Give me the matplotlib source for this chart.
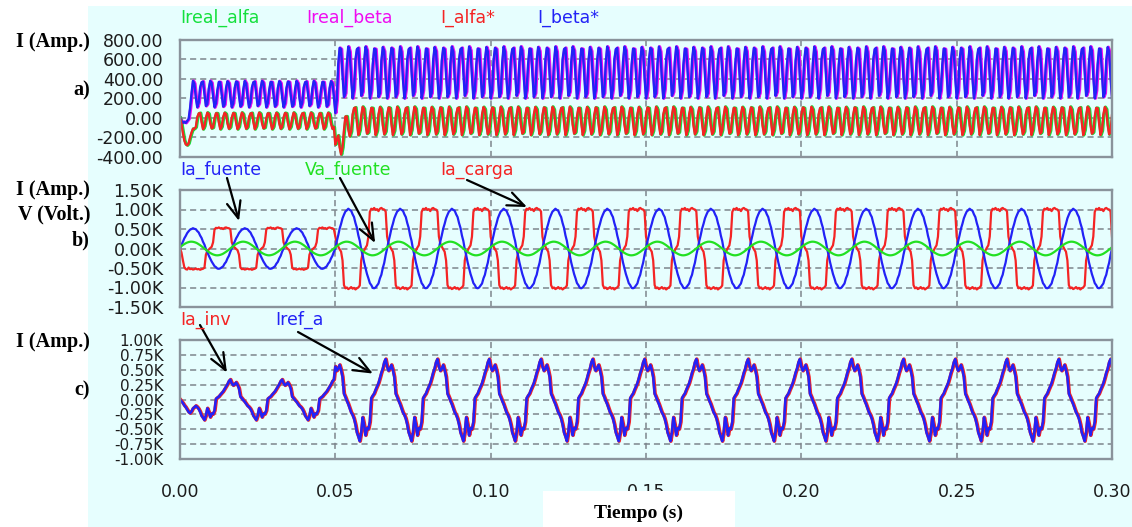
import numpy as np
import matplotlib
matplotlib.use("Agg")
import matplotlib.pyplot as plt
from matplotlib.patches import Rectangle

# ---------------- record settings ----------------
f_red = 60.0            # Hz
muestras_ciclo = 36     # stored samples per 60 Hz cycle
t_final = 0.30          # s
t_escalon = 0.05        # s, load step

# ---------------- one 60 Hz cycle of every trace (per unit) ----------------
ia_fuente_ciclo = [0.00, 0.18, 0.33, 0.50, 0.62, 0.76, 0.85, 0.93, 0.96, 1.00, 0.97, 0.95,
                   0.86, 0.79, 0.64, 0.52, 0.33, 0.19, -0.02, -0.17, -0.35, -0.49, -0.64, -0.75,
                   -0.87, -0.92, -0.99, -1.00, -0.98, -0.93, -0.88, -0.75, -0.66, -0.49, -0.36, -0.16]
va_fuente_ciclo = [0.19, 0.36, 0.51, 0.65, 0.77, 0.87, 0.94, 0.99, 1.00, 0.98, 0.93, 0.86,
                   0.76, 0.63, 0.49, 0.33, 0.16, -0.01, -0.19, -0.36, -0.51, -0.65, -0.77, -0.87,
                   -0.94, -0.99, -1.00, -0.98, -0.93, -0.86, -0.76, -0.63, -0.49, -0.33, -0.16, 0.01]
ia_carga_ciclo = [0.30, 0.12, 0.05, -0.02, -0.08, -0.30,
                  -0.92, -1.00, -0.98, -1.02, -1.00, -0.97, -1.01, -0.99, -1.03, -1.00, -0.98, -0.93,
                  -0.30, -0.12, -0.05, 0.02, 0.08, 0.30,
                  0.92, 1.00, 0.98, 1.02, 0.97, 0.99, 0.94, 1.00, 1.02, 0.99, 0.98, 0.93]
ia_inv_ciclo = [0.79, 0.69, 0.74, 0.83, 0.71, 0.54, 0.14, 0.06, -0.03, -0.11, -0.21, -0.31,
                -0.37, -0.46, -0.60, -0.79, -0.89, -1.00, -0.79, -0.43, -0.60, -0.86, -0.69, -0.71,
                -0.54, 0.03, 0.09, 0.14, 0.23, 0.31, 0.39, 0.51, 0.64, 0.74, 0.89, 0.97]
i_beta_ciclo = [-1.00, -0.70, 0.45, 0.95, 0.90, -0.10,
                -0.95, -0.80, 0.35, 1.00, 0.80, -0.25,
                -1.00, -0.65, 0.50, 0.90, 0.95, 0.00,
                -0.90, -0.75, 0.40, 1.00, 0.85, -0.15,
                -1.00, -0.70, 0.30, 0.92, 0.90, -0.05,
                -0.95, -0.80, 0.45, 0.98, 0.82, -0.20]
i_alfa_ciclo = [0.40, 0.95, 0.90, -0.20, -1.00, -0.70,
                0.30, 1.00, 0.80, -0.30, -0.95, -0.75,
                0.45, 0.90, 0.95, -0.10, -1.00, -0.65,
                0.35, 1.00, 0.85, -0.25, -0.90, -0.80,
                0.30, 0.92, 0.90, -0.15, -1.00, -0.70,
                0.45, 0.98, 0.82, -0.30, -0.95, -0.75]

# ---------------- levels before / after the load step ----------------
amp_ia_fuente = [520, 1020]
amp_va_fuente = [175, 175]
amp_ia_carga = [530, 1020]
amp_ia_inv = [345, 700]
media_beta = [245, 467]
rizado_beta = [135, 265]
media_alfa = [-30, -30]
rizado_alfa = [85, 145]

# ---------------- start-up and step transients ----------------
beta_arranque = [0, -30, -50, -40, -50, -30, -10, 100, 250]
alfa_arranque = [0, -60, -150, -230, -270, -280, -260, -200, -150, -110]
alfa_escalon = [-300, -330, -280, -240, -200, -170, -140, -100, -70, -40, -20]
beta_escalon = [-150, -100, -40]
carga_arranque = [0, -100, -300, -480, -530, -540]
inv_arranque = [0, -30, -60, -100, -130, -170, -210, -230, -200, -150, -130]

# ---------------- axis texts ----------------
xticks = [0.00, 0.05, 0.10, 0.15, 0.20, 0.25, 0.30]
xtick_labels = ["0.00", "0.05", "0.10", "0.15", "0.20", "0.25", "0.30"]
yticks_a = [800, 600, 400, 200, 0, -200, -400]
ylabels_a = ["800.00", "600.00", "400.00", "200.00", "0.00", "-200.00", "-400.00"]
yticks_b = [1500, 1000, 500, 0, -500, -1000, -1500]
ylabels_b = ["1.50K", "1.00K", "0.50K", "0.00K", "-0.50K", "-1.00K", "-1.50K"]
yticks_c = [1000, 750, 500, 250, 0, -250, -500, -750, -1000]
ylabels_c = ["1.00K", "0.75K", "0.50K", "0.25K", "0.00K", "-0.25K", "-0.50K", "-0.75K", "-1.00K"]

# ---------------- build the time series ----------------
n_ciclos = int(round(t_final * f_red))
n = n_ciclos * muestras_ciclo + 1
dt = 1.0 / (f_red * muestras_ciclo)
t = np.arange(n) * dt
k_esc = int(round(t_escalon / dt))
tramo = (np.arange(n) >= k_esc).astype(int)


def senal(ciclo, amp, media=(0, 0)):
    base = np.resize(np.asarray(ciclo, float), n)
    return np.take(media, tramo) + np.take(amp, tramo) * base


def fijar(y, valores, inicio=0, sumar=False):
    v = np.asarray(valores, float)
    if sumar:
        y[inicio:inicio + len(v)] += v
    else:
        y[inicio:inicio + len(v)] = v


ia_fuente = senal(ia_fuente_ciclo, amp_ia_fuente)
va_fuente = senal(va_fuente_ciclo, amp_va_fuente)
ia_carga = senal(ia_carga_ciclo, amp_ia_carga)
fijar(ia_carga, carga_arranque)
ia_inv = senal(ia_inv_ciclo, amp_ia_inv)
fijar(ia_inv, inv_arranque)
i_beta = senal(i_beta_ciclo, rizado_beta, media_beta)
fijar(i_beta, beta_arranque)
fijar(i_beta, beta_escalon, k_esc, sumar=True)
i_alfa = senal(i_alfa_ciclo, rizado_alfa, media_alfa)
fijar(i_alfa, alfa_arranque)
fijar(i_alfa, alfa_escalon, k_esc, sumar=True)

# ---------------- style ----------------
W, H = 1132, 527
cian = "#e6fefe"
marco = "#8a939b"
rejilla = "#7d858c"
verde = "#14e03c"
magenta = "#f00cf0"
rojo = "#f42424"
azul = "#2222f6"
verde_v = "#22e022"
texto = "#1c1c1c"

fig = plt.figure(figsize=(W / 100, H / 100), dpi=100, facecolor="white")
fig.patches.append(Rectangle((88 / W, 0), 1 - 88 / W, 1 - 6 / H, transform=fig.transFigure,
                             facecolor=cian, edgecolor="none", zorder=-10))


def eje(y0, y1):
    return fig.add_axes([180 / W, 1 - y1 / H, (1112 - 180) / W, (y1 - y0) / H])


def preparar(ax, lim, ticks, labels, con_x=False, talla_y=12.5):
    ax.set_facecolor(cian)
    ax.set_xlim(0, t_final)
    ax.set_ylim(*lim)
    ax.set_yticks(ticks)
    ax.set_yticklabels(labels, fontsize=talla_y)
    ax.set_xticks(xticks)
    ax.set_xticklabels(xtick_labels if con_x else [])
    ax.grid(True, color=rejilla, lw=1.1, ls=(0, (4, 2.6)))
    ax.set_axisbelow(True)
    for s in ax.spines.values():
        s.set_color(marco)
        s.set_linewidth(1.7)
    ax.tick_params(length=0, labelcolor=texto)
    ax.tick_params(axis="x", labelsize=12.5, pad=17)
    ax.tick_params(axis="y", pad=12)


ax_a = eje(40, 157)
ax_b = eje(190, 307)
ax_c = eje(340, 459)
preparar(ax_a, (-400, 800), yticks_a, ylabels_a)
preparar(ax_b, (-1500, 1500), yticks_b, ylabels_b)
preparar(ax_c, (-1000, 1000), yticks_c, ylabels_c, con_x=True, talla_y=11)

# panel a: measured currents (slightly lagging) under their references
ax_a.plot(t + dt * 0.45, i_beta, color=magenta, lw=2.3)
ax_a.plot(t + dt * 0.45, i_alfa, color=verde, lw=2.3)
ax_a.plot(t, i_beta, color=azul, lw=1.7)
ax_a.plot(t, i_alfa, color=rojo, lw=1.7)

# panel b
ax_b.plot(t, ia_carga, color=rojo, lw=1.6)
ax_b.plot(t, ia_fuente, color=azul, lw=1.6)
ax_b.plot(t, va_fuente, color=verde_v, lw=1.6)

# panel c
ax_c.plot(t + dt * 0.3, ia_inv, color=rojo, lw=2.6)
ax_c.plot(t, ia_inv, color=azul, lw=1.8)


def px(x, y):
    return x / W, 1 - y / H


# trace names
nombres = [
    ("Ireal_alfa", 180, 18, verde), ("Ireal_beta", 306, 18, magenta),
    ("I_alfa*", 440, 18, rojo), ("I_beta*", 537, 18, azul),
    ("Ia_fuente", 180, 170, azul), ("Va_fuente", 305, 170, verde_v),
    ("Ia_carga", 440, 170, rojo),
    ("Ia_inv", 180, 320, rojo), ("Iref_a", 275, 320, azul),
]
for s, x, y, c in nombres:
    fig.text(*px(x, y), s, color=c, fontsize=12.5, family="DejaVu Sans", ha="left", va="center")

# quantity labels on the left
izq = [("I (Amp.)", 42), ("a)", 90), ("I (Amp.)", 190), ("V (Volt.)", 214), ("b)", 240),
       ("I (Amp.)", 342), ("c)", 390)]
for s, y in izq:
    fig.text(*px(90, y), s, fontsize=14.5, family="Liberation Serif", weight="bold",
             ha="right", va="center", color="black")

# pointer arrows from names to traces
flechas = [
    (ax_b, 0.0190, 705, 227, 178),
    (ax_b, 0.0628, 141, 340, 178),
    (ax_b, 0.1117, 1064, 467, 180),
    (ax_c, 0.0151, 453, 200, 325),
    (ax_c, 0.0621, 436, 298, 332),
]
for ax, tx, vy, x0, y0 in flechas:
    ax.annotate("", xy=(tx, vy), xycoords="data", xytext=(x0, H - y0),
                textcoords="figure pixels", annotation_clip=False,
                arrowprops=dict(arrowstyle="->,head_length=1.2,head_width=0.5",
                                color="black", lw=1.6, shrinkA=0, shrinkB=0))

# time axis title on its white plate
fig.patches.append(Rectangle(px(543, 527), (735 - 543) / W, (527 - 491) / H,
                             transform=fig.transFigure, facecolor="white",
                             edgecolor="none", zorder=5))
fig.text(*px(638, 513), "Tiempo (s)", fontsize=14, family="Liberation Serif",
         weight="bold", ha="center", va="center", color="black", zorder=6)

fig.savefig("out.png", dpi=100, facecolor="white")
